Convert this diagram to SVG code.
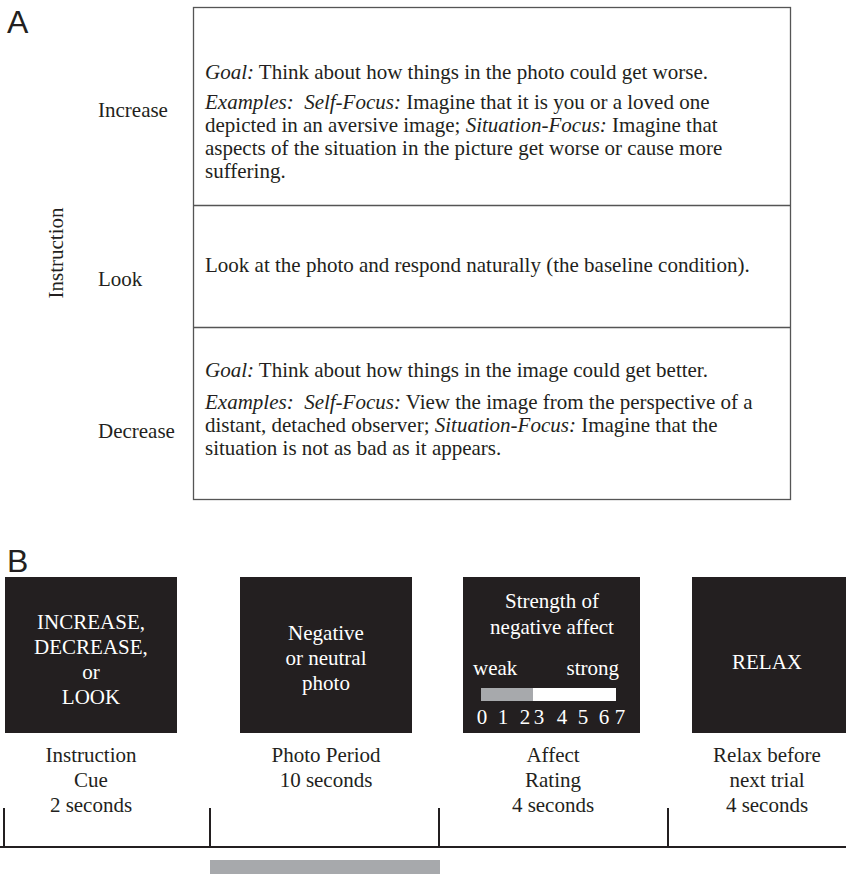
<svg xmlns="http://www.w3.org/2000/svg" width="846" height="874" viewBox="0 0 846 874">
<style>
.t{font-family:"Liberation Serif","Times New Roman",serif;font-size:21px;fill:#231f20;white-space:pre}
.i{font-style:italic}
.lab{font-family:"Liberation Sans",Arial,sans-serif;font-size:32px;fill:#231f20}
.w{font-family:"Liberation Serif","Times New Roman",serif;font-size:21px;fill:#fff;text-anchor:middle;white-space:pre}
.ws{font-family:"Liberation Serif","Times New Roman",serif;font-size:21px;fill:#fff}
.c{font-family:"Liberation Serif","Times New Roman",serif;font-size:21px;fill:#231f20;text-anchor:middle}
.box{fill:#231f20}
.ln{stroke:#231f20;stroke-width:2;fill:none}
</style>
<rect width="846" height="874" fill="#fff"/>
<text class="lab" x="7" y="33">A</text>
<text class="lab" x="7" y="572">B</text>
<g id="panelA">
<rect x="193.5" y="7.5" width="597" height="492" fill="none" stroke="#555" stroke-width="1.3"/>
<line x1="193" y1="205.5" x2="791" y2="205.5" stroke="#555" stroke-width="1.3"/>
<line x1="193" y1="327.5" x2="791" y2="327.5" stroke="#555" stroke-width="1.3"/>
<text class="t" transform="translate(63,253) rotate(-90)" text-anchor="middle">Instruction</text>
</g>
<g id="increase">
<text class="t" x="98" y="117">Increase</text>
<text class="t" x="205" y="79"><tspan class="i">Goal:</tspan> Think about how things in the photo could get worse.</text>
<text class="t" x="205" y="109"><tspan class="i">Examples:  Self-Focus:</tspan> Imagine that it is you or a loved one</text>
<text class="t" x="205" y="132">depicted in an aversive image; <tspan class="i">Situation-Focus:</tspan> Imagine that</text>
<text class="t" x="205" y="155">aspects of the situation in the picture get worse or cause more</text>
<text class="t" x="205" y="178">suffering.</text>
</g>
<g id="look">
<text class="t" x="98" y="286">Look</text>
<text class="t" x="205" y="272">Look at the photo and respond naturally (the baseline condition).</text>
</g>
<g id="decrease">
<text class="t" x="98" y="438">Decrease</text>
<text class="t" x="205" y="377"><tspan class="i">Goal:</tspan> Think about how things in the image could get better.</text>
<text class="t" x="205" y="409"><tspan class="i">Examples:  Self-Focus:</tspan> View the image from the perspective of a</text>
<text class="t" x="205" y="432">distant, detached observer; <tspan class="i">Situation-Focus:</tspan> Imagine that the</text>
<text class="t" x="205" y="455">situation is not as bad as it appears.</text>
</g>
<g id="cue">
<rect class="box" x="5" y="577" width="172" height="156"/>
<text class="w" x="91" y="629">INCREASE,</text>
<text class="w" x="91" y="654">DECREASE,</text>
<text class="w" x="91" y="679">or</text>
<text class="w" x="91" y="704">LOOK</text>
<text class="c" x="91" y="762">Instruction</text>
<text class="c" x="91" y="787">Cue</text>
<text class="c" x="91" y="812">2 seconds</text>
</g>
<g id="photo">
<rect class="box" x="240" y="577" width="172" height="156"/>
<text class="w" x="326" y="640">Negative</text>
<text class="w" x="326" y="665">or neutral</text>
<text class="w" x="326" y="690">photo</text>
<text class="c" x="326" y="762">Photo Period</text>
<text class="c" x="326" y="787">10 seconds</text>
</g>
<g id="rating">
<rect class="box" x="463" y="577" width="177" height="156"/>
<text class="w" x="552" y="608">Strength of</text>
<text class="w" x="552" y="634">negative affect</text>
<text class="ws" x="473" y="675">weak</text>
<text class="ws" x="619" y="675" style="text-anchor:end">strong</text>
<rect x="481" y="688" width="135" height="13" fill="#fff"/>
<rect x="481" y="688" width="52" height="13" fill="#a7a9ac"/>
<text class="w" y="724"><tspan x="482">0</tspan><tspan x="503">1</tspan><tspan x="525">2</tspan><tspan x="539">3</tspan><tspan x="562">4</tspan><tspan x="583">5</tspan><tspan x="604">6</tspan><tspan x="620">7</tspan></text>
<text class="c" x="553" y="762">Affect</text>
<text class="c" x="553" y="787">Rating</text>
<text class="c" x="553" y="812">4 seconds</text>
</g>
<g id="relax">
<rect class="box" x="692" y="577" width="160" height="156"/>
<text class="w" x="767" y="669">RELAX</text>
<text class="c" x="767" y="762">Relax before</text>
<text class="c" x="767" y="787">next trial</text>
<text class="c" x="767" y="812">4 seconds</text>
</g>
<g id="connectors">
<line class="ln" x1="0" y1="847" x2="846" y2="847"/>
<line class="ln" x1="4" y1="808" x2="4" y2="847"/>
<line class="ln" x1="210" y1="808" x2="210" y2="847"/>
<line class="ln" x1="439" y1="808" x2="439" y2="847"/>
<line class="ln" x1="668" y1="808" x2="668" y2="847"/>
<rect x="210" y="860" width="230" height="14" fill="#a7a9ac"/>
</g>
</svg>
